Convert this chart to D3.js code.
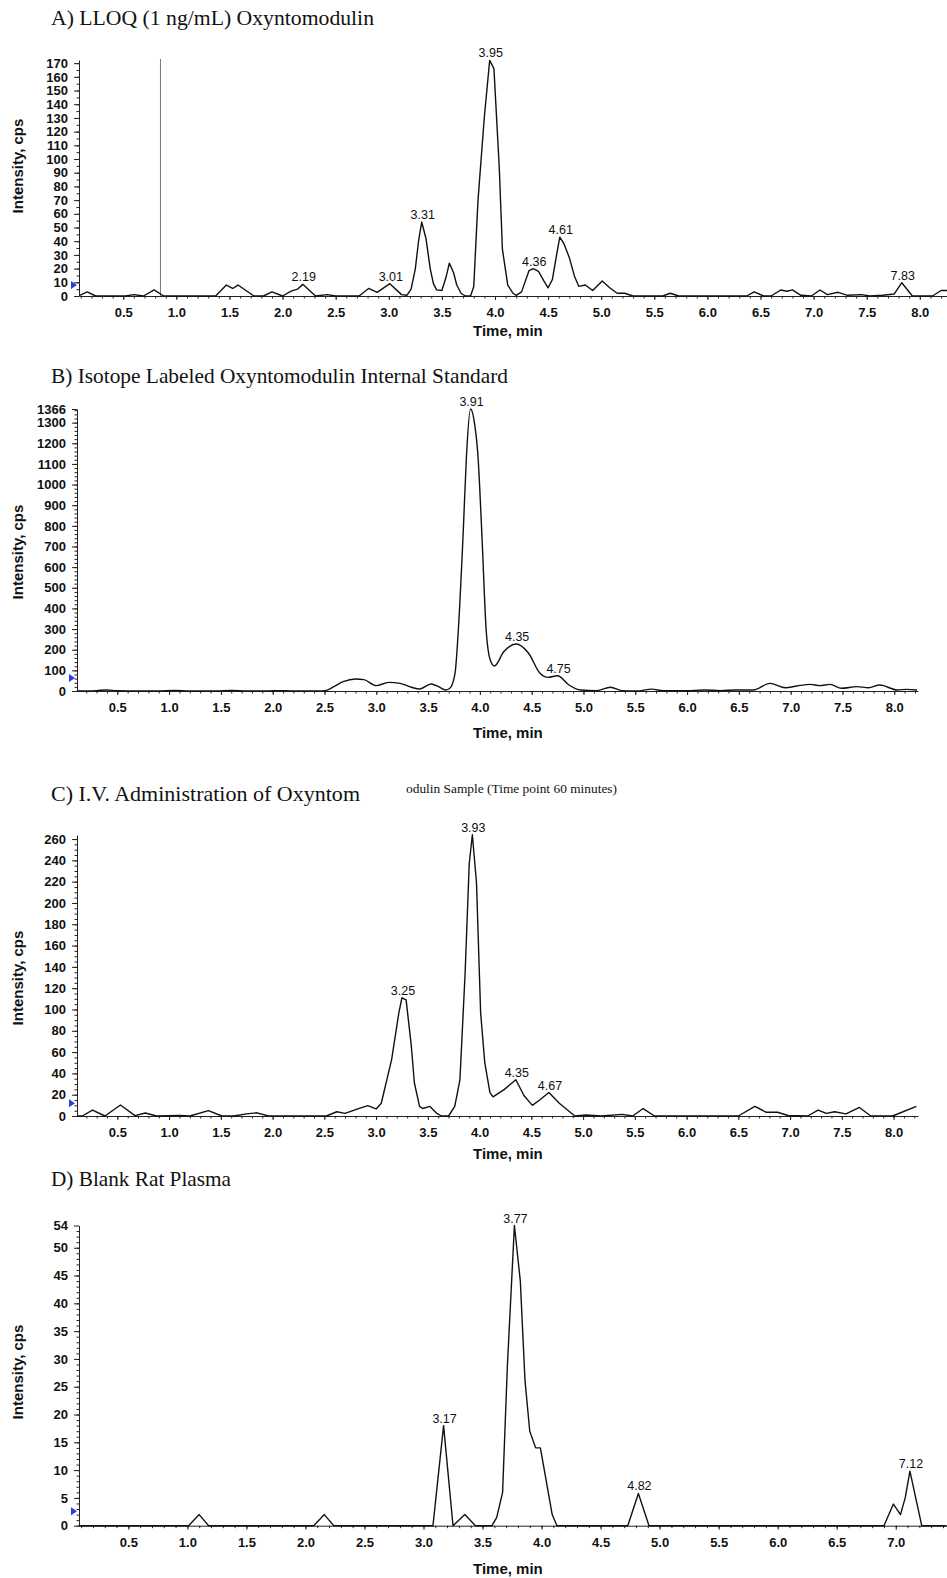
<!DOCTYPE html>
<html>
<head>
<meta charset="utf-8">
<title>Oxyntomodulin chromatograms</title>
<style>
body {margin: 0; background: #fff;}
svg {display: block;}
.title {font-family: "Liberation Serif", "Times New Roman", serif; fill: #111;}
.axis .tick text {font-family: "Liberation Sans", Arial, sans-serif; font-weight: bold; font-size: 13px; fill: #111;}
.axis path, .axis line {stroke: #222; stroke-width: 1;}
.axisTitle {font-family: "Liberation Sans", Arial, sans-serif; font-weight: bold; font-size: 15px; fill: #111;}
.peak {font-family: "Liberation Sans", Arial, sans-serif; font-size: 12.5px; fill: #111;}
.trace {fill: none; stroke: #111; stroke-width: 1.4; stroke-linejoin: round;}
</style>
</head>
<body>
<div id="chart"></div>
<script src="https://cdnjs.cloudflare.com/ajax/libs/d3/7.8.5/d3.min.js"></script>
<script>
// ---- A) LLOQ (1 ng/mL) ----
var timeA = [0.09,0.16,0.24,0.52,0.60,0.69,0.79,0.88,1.37,1.47,1.53,1.58,1.73,1.82,1.90,2.00,2.08,2.14,2.19,2.31,2.42,2.50,2.72,2.81,2.89,3.01,3.12,3.17,3.21,3.25,3.28,3.31,3.35,3.39,3.42,3.45,3.50,3.54,3.57,3.61,3.64,3.68,3.72,3.77,3.80,3.84,3.90,3.95,3.99,4.04,4.07,4.12,4.17,4.20,4.25,4.32,4.36,4.41,4.46,4.50,4.54,4.58,4.61,4.65,4.70,4.75,4.79,4.85,4.92,5.01,5.08,5.15,5.22,5.30,5.58,5.65,5.73,6.37,6.44,6.53,6.60,6.69,6.75,6.80,6.88,6.98,7.06,7.13,7.23,7.32,7.45,7.53,7.65,7.76,7.83,7.93,8.12,8.20,8.26];
var intensityA = [0.5,3,0,0,1,0,4.5,0,0,8,5.5,8,0,0,3,0,3.6,5,8.5,0,1,0,0,5.5,2.7,9,1,0.5,5,20,40,54,42,20,9,4.5,4,14,24,17,8,2,0,0,7,70,131,172,166,94,34,8,2,0.5,3,18.5,20,18,11,6,12,30,43,38,28,14,7,8,4,11,6,2,2,0,0,2,0,0,3,0,0,4.4,3.5,4.5,0.5,0,4.4,1,2.7,0.5,1,0,0.5,1.5,9.7,0,0,4,4];
var peaksA = [2.19, 3.01, 3.31, 3.95, 4.36, 4.61, 7.83];
var yTicksA = [0,10,20,30,40,50,60,70,80,90,100,110,120,130,140,150,160,170];
var xTicksA = [0.5,1.0,1.5,2.0,2.5,3.0,3.5,4.0,4.5,5.0,5.5,6.0,6.5,7.0,7.5,8.0];
var markerA = 8;
var refLineA = 0.85;

// ---- B) Isotope labeled internal standard ----
var timeB = [0.11,0.30,0.40,0.50,0.70,0.90,1.05,1.20,1.45,1.60,1.75,1.95,2.05,2.20,2.45,2.51,2.59,2.68,2.80,2.88,3.00,3.12,3.23,3.34,3.42,3.53,3.60,3.67,3.71,3.76,3.79,3.84,3.87,3.91,3.95,3.98,4.02,4.06,4.10,4.14,4.23,4.35,4.47,4.58,4.66,4.75,4.86,4.97,5.13,5.26,5.37,5.51,5.66,5.77,6.00,6.16,6.32,6.48,6.64,6.80,6.95,7.06,7.19,7.28,7.38,7.49,7.64,7.75,7.86,8.03,8.12,8.22];
var intensityB = [0,2,5,1,0,0,3,0,0,3,0,0,2,0,0,2,21,45,58,55,26,42,37,18,10,34,21,5,13,85,280,780,1135,1366,1290,1150,750,300,150,121,190,228,183,86,66,74,29,5,2,18,2,0,9,1,1,5,2,5,5,37,16,24,32,26,32,13,21,16,29,5,8,5];
var peaksB = [3.91, 4.35, 4.75];
var yTicksB = [0,100,200,300,400,500,600,700,800,900,1000,1100,1200,1300,1366];
var xTicksB = [0.5,1.0,1.5,2.0,2.5,3.0,3.5,4.0,4.5,5.0,5.5,6.0,6.5,7.0,7.5,8.0];
var markerB = 63;

// ---- C) I.V. administration, 60 min ----
var timeC = [0.11,0.16,0.26,0.38,0.53,0.67,0.77,0.88,1.10,1.20,1.38,1.51,1.62,1.75,1.85,1.96,2.52,2.62,2.70,2.83,2.92,3.00,3.05,3.15,3.22,3.25,3.29,3.34,3.37,3.42,3.45,3.52,3.58,3.63,3.70,3.76,3.81,3.86,3.90,3.93,3.97,4.01,4.05,4.10,4.13,4.24,4.35,4.43,4.51,4.58,4.67,4.77,4.92,5.03,5.17,5.38,5.48,5.58,5.69,6.50,6.66,6.77,6.88,6.98,7.17,7.27,7.35,7.43,7.54,7.67,7.78,7.99,8.22];
var intensityC = [0,0,5.6,0,10.3,0.3,2.8,0,0.5,0,5,0,0,2,3,0,0,4,2.5,7,9.7,6.6,12,53,97,111,109,66,31,9,7,9,3,0,0,9,34,134,237,264,219,97,50,22,18,25,34,19,10,15,22,12,0,1,0,1.5,0,7,0,0,9,3.5,3.5,0.5,0,5.6,2.5,4,2,8,0,0,9];
var peaksC = [3.25, 3.93, 4.35, 4.67];
var yTicksC = [0,20,40,60,80,100,120,140,160,180,200,220,240,260];
var xTicksC = [0.5,1.0,1.5,2.0,2.5,3.0,3.5,4.0,4.5,5.0,5.5,6.0,6.5,7.0,7.5,8.0];
var markerC = 12;

// ---- D) Blank rat plasma ----
var timeD = [0.08,1.01,1.10,1.18,2.07,2.16,2.24,3.08,3.17,3.25,3.35,3.44,3.58,3.62,3.67,3.71,3.77,3.82,3.86,3.90,3.95,3.99,4.09,4.13,4.73,4.82,4.91,6.90,6.98,7.04,7.08,7.12,7.22,7.43];
var intensityD = [0,0,2,0,0,2,0,0,18,0,2,0,0,1.5,6,28.6,54,44,26,17,14,14,2,0,0,5.8,0,0,3.9,2,5,9.8,0,0];
var peaksD = [3.17, 3.77, 4.82, 7.12];
var yTicksD = [0,5,10,15,20,25,30,35,40,45,50,54];
var xTicksD = [0.5,1.0,1.5,2.0,2.5,3.0,3.5,4.0,4.5,5.0,5.5,6.0,6.5,7.0];
var markerD = 2.6;

(function(d3) {
	var width = 947;
	var height = 1578;

	var panels = [
		{title: 'A)  LLOQ (1 ng/mL) Oxyntomodulin', titleY: 25, titleW: 323,
		 x0: 79, x1: 947, tDom: [0.083, 8.256], yBase: 296, yTop: 60, vDom: [0, 172.3],
		 time: timeA, value: intensityA, peaks: peaksA, yTicks: yTicksA, yStep: 5,
		 xTicks: xTicksA, marker: markerA, refLine: refLineA,
		 xTitleY: 336, yTitleY: 166, curve: d3.curveLinear},
		{title: 'B) Isotope Labeled Oxyntomodulin Internal Standard', titleY: 383, titleW: 457,
		 x0: 77, x1: 918, tDom: [0.111, 8.229], yBase: 691, yTop: 409, vDom: [0, 1366],
		 time: timeB, value: intensityB, peaks: peaksB, yTicks: yTicksB, yStep: 20,
		 xTicks: xTicksB, marker: markerB,
		 xTitleY: 738, yTitleY: 552, curve: d3.curveMonotoneX},
		{title: 'C)  I.V. Administration of Oxyntom', titleY: 801, titleW: 309,
		 sub: 'odulin Sample (Time point 60 minutes)', subX: 406, subY: 793, subW: 211,
		 x0: 77, x1: 918, tDom: [0.110, 8.236], yBase: 1116, yTop: 835, vDom: [0, 263.8],
		 time: timeC, value: intensityC, peaks: peaksC, yTicks: yTicksC, yStep: 5,
		 xTicks: xTicksC, marker: markerC,
		 xTitleY: 1159, yTitleY: 978, curve: d3.curveLinear},
		{title: 'D) Blank Rat Plasma', titleY: 1186, titleW: 180,
		 x0: 79, x1: 947, tDom: [0.082, 7.434], yBase: 1525.7, yTop: 1225.5, vDom: [0, 54],
		 time: timeD, value: intensityD, peaks: peaksD, yTicks: yTicksD, yStep: 1,
		 xTicks: xTicksD, marker: markerD,
		 xTitleY: 1574, yTitleY: 1372, curve: d3.curveLinear}
	];

	var svg = d3.select('#chart')
		.append('svg')
		.attr('width', width)
		.attr('height', height);

	panels.forEach(function(p) {
		var x = d3.scaleLinear().domain(p.tDom).range([p.x0, p.x1]);
		var y = d3.scaleLinear().domain(p.vDom).range([p.yBase, p.yTop]);
		var g = svg.append('g');

		g.append('text')
			.attr('class', 'title')
			.attr('x', 51)
			.attr('y', p.titleY)
			.attr('font-size', 21)
			.attr('textLength', p.titleW)
			.attr('lengthAdjust', 'spacingAndGlyphs')
			.text(p.title);
		if (p.sub) {
			g.append('text')
				.attr('class', 'title')
				.attr('x', p.subX)
				.attr('y', p.subY)
				.attr('font-size', 12)
				.attr('textLength', p.subW)
				.attr('lengthAdjust', 'spacingAndGlyphs')
				.text(p.sub);
		}

		// minor ticks first, unlabeled
		var yMinor = d3.range(0, p.vDom[1], p.yStep);
		g.append('g')
			.attr('class', 'axis')
			.attr('transform', 'translate(' + p.x0 + ',0)')
			.call(d3.axisLeft(y).tickValues(yMinor).tickSize(2.5).tickFormat(''))
			.select('.domain').remove();
		g.append('g')
			.attr('class', 'axis')
			.attr('transform', 'translate(' + p.x0 + ',0)')
			.call(d3.axisLeft(y).tickValues(p.yTicks).tickSize(5).tickSizeOuter(0)
				.tickPadding(6).tickFormat(d3.format('d')));

		var xMinor = d3.range(Math.ceil(p.tDom[0] * 10) / 10, p.tDom[1], 0.1);
		g.append('g')
			.attr('class', 'axis')
			.attr('transform', 'translate(0,' + p.yBase + ')')
			.call(d3.axisBottom(x).tickValues(xMinor).tickSize(2.5).tickFormat(''))
			.select('.domain').remove();
		g.append('g')
			.attr('class', 'axis')
			.attr('transform', 'translate(0,' + p.yBase + ')')
			.call(d3.axisBottom(x).tickValues(p.xTicks).tickSize(4).tickSizeOuter(0)
				.tickPadding(8).tickFormat(d3.format('.1f')));

		g.append('text')
			.attr('class', 'axisTitle')
			.attr('x', 473)
			.attr('y', p.xTitleY)
			.text('Time, min');
		g.append('text')
			.attr('class', 'axisTitle')
			.attr('text-anchor', 'middle')
			.attr('transform', 'translate(23,' + p.yTitleY + ') rotate(-90)')
			.text('Intensity, cps');

		if (p.refLine !== undefined) {
			g.append('line')
				.attr('x1', x(p.refLine)).attr('x2', x(p.refLine))
				.attr('y1', p.yTop - 1).attr('y2', p.yBase)
				.attr('stroke', '#777')
				.attr('stroke-width', 1);
		}

		var pts = d3.zip(p.time, p.value);
		var line = d3.line()
			.x(function(d) { return x(d[0]); })
			.y(function(d) { return y(d[1]); })
			.curve(p.curve);
		g.append('path')
			.datum(pts)
			.attr('class', 'trace')
			.attr('d', line);

		// little blue threshold marker left of the axis
		var my = y(p.marker);
		g.append('path')
			.attr('d', 'M' + (p.x0 - 8) + ',' + (my - 4) + 'L' + (p.x0 - 2) + ',' + my +
				'L' + (p.x0 - 8) + ',' + (my + 4) + 'Z')
			.attr('fill', '#2440e0');

		g.selectAll('.peak')
			.data(p.peaks)
			.enter()
			.append('text')
			.attr('class', 'peak')
			.attr('text-anchor', 'middle')
			.attr('x', function(d) { return x(d) + 1; })
			.attr('y', function(d) {
				var top = 0;
				pts.forEach(function(q) {
					if (Math.abs(q[0] - d) <= 0.045 && q[1] > top) top = q[1];
				});
				return y(top) - 3;
			})
			.text(function(d) { return d.toFixed(2); });
	});
})(window.d3);
</script>
</body>
</html>
